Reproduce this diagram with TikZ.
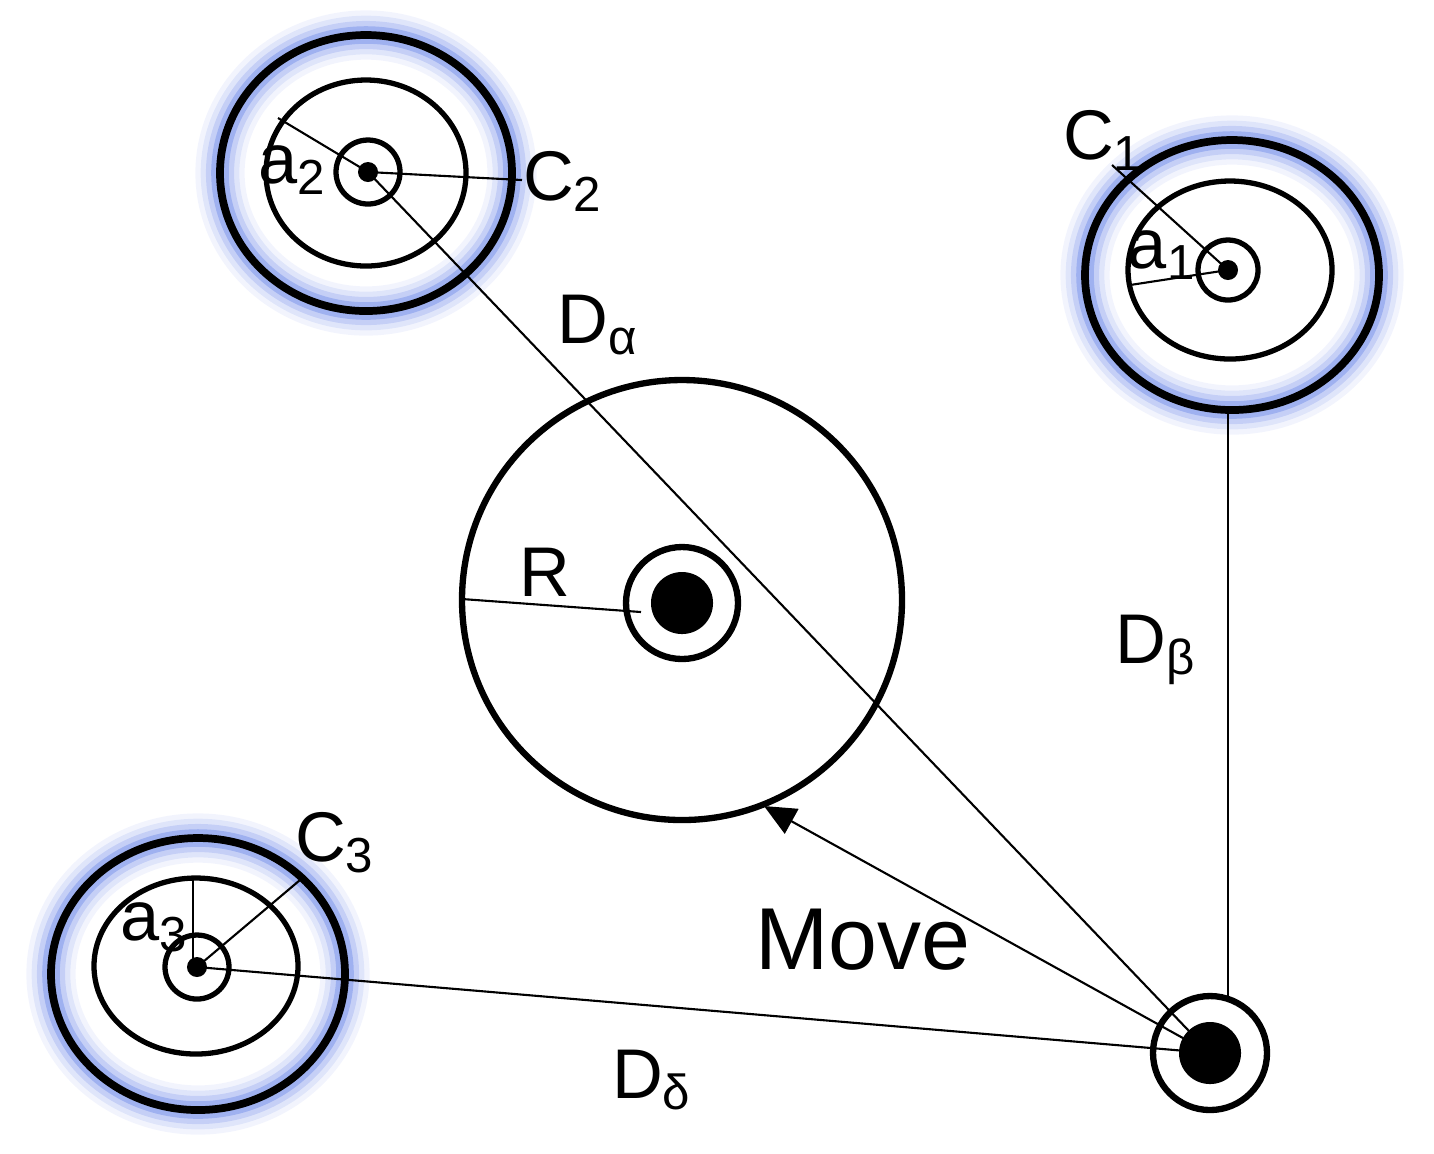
\documentclass[tikz,border=0pt]{standalone}
\usepackage{fontspec}
\setmainfont{Liberation Sans}
\usetikzlibrary{arrows.meta}
\definecolor{glow}{RGB}{90,120,230}
\tikzset{
  lbl/.style={font=\fontsize{20}{22}\selectfont, inner sep=0pt},
  dot/.style={circle, fill=black, inner sep=0pt},
  thin line/.style={line width=0.6pt},
}
\newcommand{\glowring}[3]{%
  \foreach \w/\o in {14/0.08,11/0.12,8/0.2,5/0.35}
    \draw [glow, opacity=\o, line width=\w pt] (#1) ellipse [x radius=#2, y radius=#3];
  \draw [line width=2.2pt] (#1) ellipse [x radius=#2, y radius=#3];
}
\begin{document}
\begin{tikzpicture}[x=0.01cm, y=-0.01cm]
\useasboundingbox (0,0) rectangle (1434,1153);

% cluster 2
\glowring{366,173}{146}{138}
\draw [line width=1.5pt] (366,173) ellipse [x radius=100, y radius=93];
\draw [line width=1.5pt] (368,172) circle [radius=32];
\node (c2) [dot, minimum size=0.2cm] at (368,172) {};
\coordinate (a2e) at (278,118);
\coordinate (c2e) at (522,180);
\draw [thin line] (c2.center) -- (a2e);
\draw [thin line] (c2.center) -- (c2e);
\node [lbl] at (293,170) {a\textsubscript{2}};
\node [lbl] at (563,181) {C\textsubscript{2}};

% cluster 1
\glowring{1232,275}{147}{135}
\draw [line width=1.5pt] (1230,270) ellipse [x radius=102, y radius=89];
\draw [line width=1.5pt] (1228,270) circle [radius=30];
\node (c1) [dot, minimum size=0.2cm] at (1228,270) {};
\coordinate (a1e) at (1130,285);
\coordinate (c1e) at (1112,165);
\draw [thin line] (c1.center) -- (a1e);
\draw [thin line] (c1.center) -- (c1e);
\node [lbl] at (1162,255) {a\textsubscript{1}};
\node [lbl] at (1103,140) {C\textsubscript{1}};

% cluster 3
\glowring{198,974}{147}{136}
\draw [line width=1.5pt] (196,966) ellipse [x radius=102, y radius=88];
\draw [line width=1.5pt] (197,967) circle [radius=32];
\node (c3) [dot, minimum size=0.2cm] at (197,967) {};
\coordinate (a3e) at (193,880);
\coordinate (c3e) at (300,880);
\draw [thin line] (193,967) -- (a3e);
\draw [thin line] (c3.center) -- (c3e);
\node [lbl] at (155,927) {a\textsubscript{3}};
\node [lbl] at (335,843) {C\textsubscript{3}};

% central circle
\draw [line width=1.8pt] (682,600) circle [radius=220];
\draw [line width=1.8pt] (682,603) circle [radius=56];
\node (mid) [dot, minimum size=0.62cm] at (682,603) {};
\coordinate (re) at (462,599);
\draw [thin line] (641,612) -- (re);
\node [lbl] at (545,572) {R};

% robot
\draw [line width=1.8pt] (1210,1053) circle [radius=57];
\node (rob) [dot, minimum size=0.62cm] at (1210,1053) {};
\coordinate (mv) at (764,806);

\draw [thin line] (rob.center) -- (c2.center);
\draw [thin line] (1228,1000) -- (1228,410);
\draw [thin line] (rob.center) -- (c3.center);
\draw [thin line, -{Triangle[length=9pt, width=8pt]}] (rob.center) -- (mv);

\node [lbl] at (598,325) {D\textsubscript{α}};
\node [lbl] at (1156,650) {D\textsubscript{β}};
\node [lbl] at (652,1080) {D\textsubscript{δ}};
\node [lbl, font=\fontsize{25}{27}\selectfont] at (863,940) {Move};
\end{tikzpicture}
\end{document}
